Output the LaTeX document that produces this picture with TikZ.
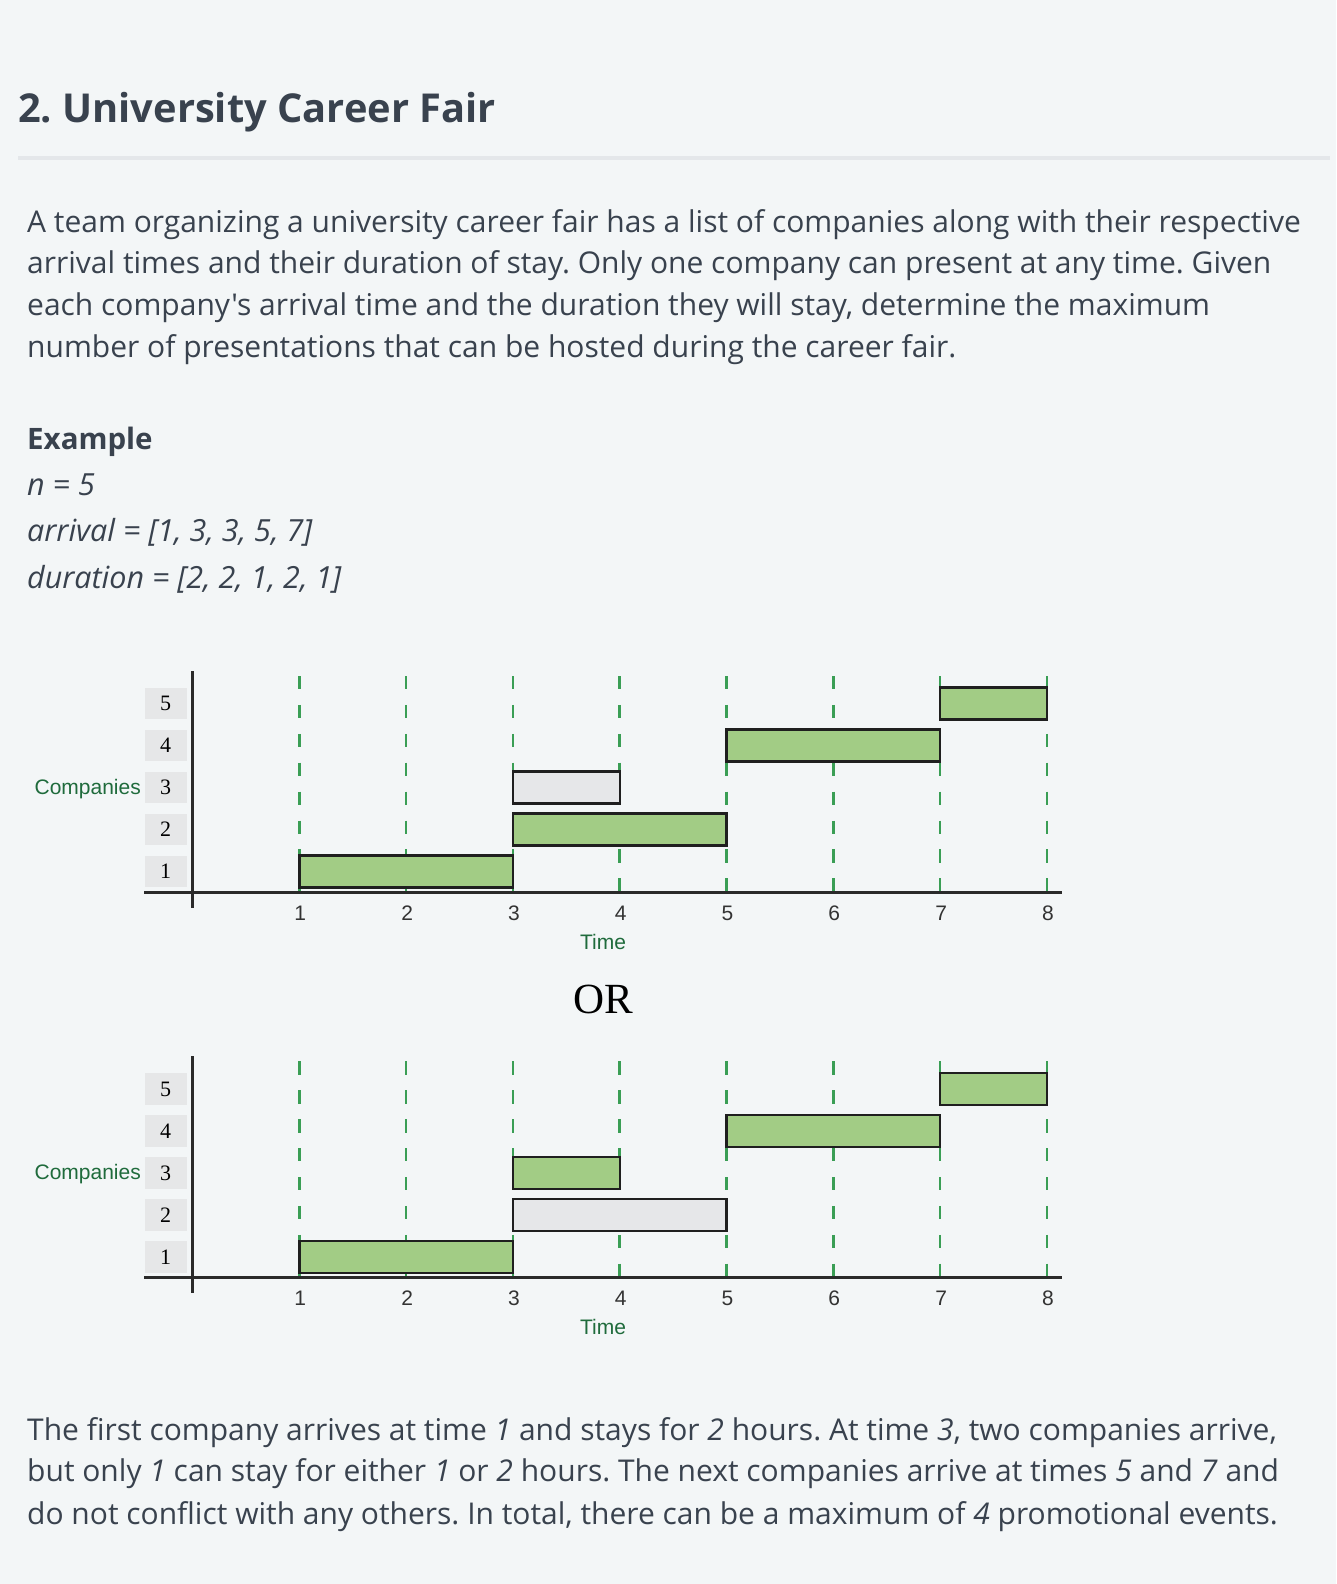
\documentclass[tikz,border=0pt]{standalone}
\usepackage{fontspec}
\setmainfont{Open Sans}[Ligatures=TeXOff]
\newfontfamily\arialf{Liberation Sans}
\newfontfamily\timesf{Liberation Serif}
\definecolor{bg}{HTML}{F3F6F7}
\definecolor{ink}{HTML}{39424E}
\definecolor{rulec}{HTML}{E4E7EA}
\definecolor{dashg}{HTML}{3A9E55}
\definecolor{labg}{HTML}{1F6B3C}
\definecolor{barg}{HTML}{A2CC85}
\definecolor{barx}{HTML}{E6E7E9}
\definecolor{rowbg}{HTML}{E6E7E8}
\definecolor{axisc}{HTML}{2A2A2A}
\definecolor{tickc}{HTML}{333333}
\frenchspacing
\tikzset{
  txt/.style={inner sep=0pt,anchor=base west,text=ink,font=\fontsize{30}{42}\selectfont},
  titletxt/.style={inner sep=0pt,anchor=base west,text=ink,font=\bfseries\fontsize{39.8}{50}\selectfont},
  rowlab/.style={fill=rowbg,minimum width=42pt,minimum height=31.5pt,inner sep=0pt,text=black,font=\timesf\fontsize{22}{22}\selectfont},
  dashline/.style={draw=dashg,line width=2.6pt,dash pattern=on 13.3pt off 15.6pt},
  axisline/.style={draw=axisc,line width=2.5pt},
  barbox/.style={draw=black!88,line width=2.4pt,minimum height=32pt,inner sep=0pt},
  ticklab/.style={inner sep=0pt,anchor=base,text=tickc,font=\arialf\fontsize{21}{21}\selectfont},
  axlab/.style={inner sep=0pt,anchor=base,text=labg,font=\arialf\fontsize{21}{21}\selectfont},
}
\newcommand{\fairchart}[4]{%
\begin{scope}[shift={(0,#1)}]
  \foreach \r in {1,...,5}
    \node[rowlab] (#2r\r) at (165.7,{871.5-42*(\r-1)}) {\r};
  \foreach \t in {1,...,8} {
    \coordinate (#2top\t) at ({192.5+106.8*\t},676);
    \coordinate (#2bot\t) at ({192.5+106.8*\t},892.3);
    \draw[dashline] (#2top\t) -- (#2bot\t);
  }
  \node[barbox,fill=barg,minimum width=213.6pt] (#2b1) at (406.1,871.5) {};
  \node[barbox,fill=#3,minimum width=213.6pt] (#2b2) at (619.7,829.5) {};
  \node[barbox,fill=#4,minimum width=106.8pt] (#2b3) at (566.3,787.5) {};
  \node[barbox,fill=barg,minimum width=213.6pt] (#2b4) at (833.3,745.5) {};
  \node[barbox,fill=barg,minimum width=106.8pt] (#2b5) at (993.5,703.5) {};
  \coordinate (#2hx0) at (144,892.3);
  \coordinate (#2hx1) at (1062,892.3);
  \coordinate (#2vy0) at (192.5,671);
  \coordinate (#2vy1) at (192.5,908);
  \draw[axisline] (#2hx0) -- (#2hx1);
  \draw[axisline] (#2vy0) -- (#2vy1);
  \foreach \t in {1,...,8}
    \node[ticklab] (#2n\t) at ({193.5+106.8*\t},920.5) {\t};
  \node[axlab] (#2time) at (603,949) {Time};
  \node[axlab] (#2comp) at (87.7,794) {Companies};
\end{scope}}
\begin{document}
\begin{tikzpicture}[x=1pt,y=-1pt]
\fill[bg] (0,0) rectangle (1336,1584);
\useasboundingbox (0,0) rectangle (1336,1584);
% title
\node[titletxt] (title) at (18,122.3) {2. University Career Fair};
\coordinate (rule0) at (18,158);
\coordinate (rule1) at (1330,158);
\draw[draw=rulec,line width=3.3pt] (rule0) -- (rule1);
% description
\node[txt] (d1) at (27,232.3) {A team organizing a university career fair has a list of companies along with their respective};
\node[txt] (d2) at (27,273.8) {arrival times and their duration of stay. Only one company can present at any time. Given};
\node[txt] (d3) at (27,315.7) {each company's arrival time and the duration they will stay, determine the maximum};
\node[txt] (d4) at (27,357.7) {number of presentations that can be hosted during the career fair.};
% example
\node[txt,font=\bfseries\fontsize{29.5}{42}\selectfont] (ex) at (27,449.3) {Example};
\node[txt,font=\itshape\fontsize{30.5}{42}\selectfont] (exn) at (27,495.3) {n = 5};
\node[txt,font=\itshape\fontsize{30.5}{42}\selectfont] (exa) at (27,541.7) {arrival = [1, 3, 3, 5, 7]};
\node[txt,font=\itshape\fontsize{30.5}{42}\selectfont] (exd) at (27,588) {duration = [2, 2, 1, 2, 1]};
% charts
\fairchart{0}{A}{barg}{barx}
\node[inner sep=0pt,anchor=base,text=black,font=\timesf\fontsize{43}{43}\selectfont] (or) at (603,1013.3) {OR};
\fairchart{385.4}{B}{barx}{barg}
% explanation
\node[txt] (e1) at (27,1440) {The first company arrives at time \textit{1} and stays for \textit{2} hours. At time \textit{3}, two companies arrive,};
\node[txt] (e2) at (27,1481.7) {but only \textit{1} can stay for either \textit{1} or \textit{2} hours. The next companies arrive at times \textit{5} and \textit{7} and};
\node[txt] (e3) at (27,1524) {do not conflict with any others. In total, there can be a maximum of \textit{4} promotional events.};
\end{tikzpicture}
\end{document}
